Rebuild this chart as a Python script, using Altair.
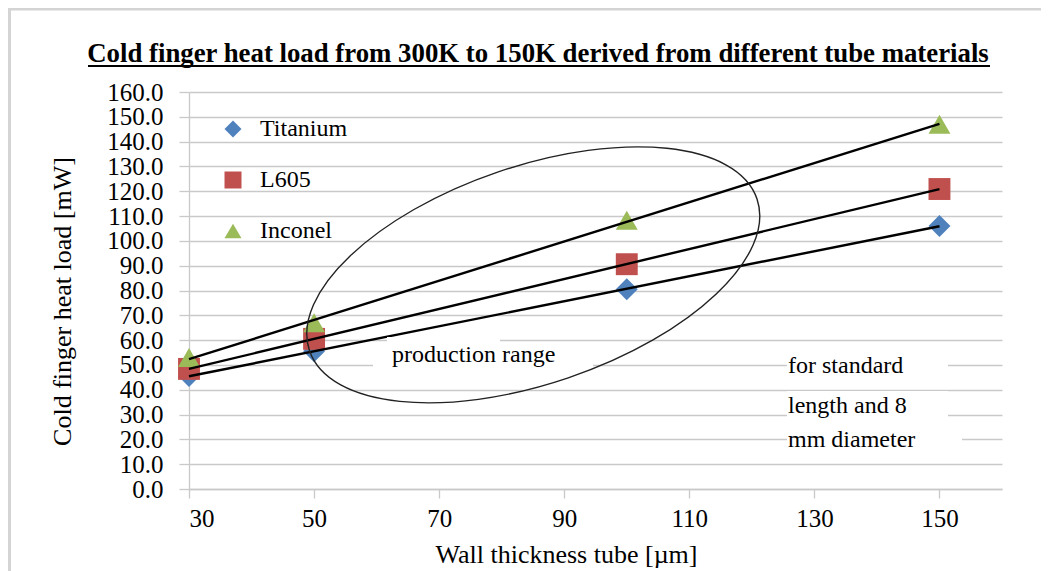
import altair as alt
import pandas as pd

# ---------------- data ----------------
thickness = [30, 50, 100, 150]
titanium = [45.5, 55.5, 80.5, 106.0]
l605 = [48.4, 60.5, 90.6, 120.9]
inconel = [53.0, 67.0, 108.3, 147.0]
materials = ["Titanium", "L605", "Inconel"]
colors = ["#4F81BD", "#C0504D", "#9BBB59"]
shapes = ["diamond", "square", "triangle-up"]
x_ticks = [30, 50, 70, 90, 110, 130, 150]
y_ticks = [0, 10, 20, 30, 40, 50, 60, 70, 80, 90, 100, 110, 120, 130, 140, 150, 160]
title_text = "Cold finger heat load from 300K to 150K derived from different tube materials"
x_title = "Wall thickness tube [µm]"
y_title = "Cold finger heat load [mW]"
note_range = "production range"
note_std = ["for standard", "length and 8", "mm diameter"]
ellipse_center = [85.05, 86.3]   # data coords of the "production range" ellipse

series = {"Titanium": titanium, "L605": l605, "Inconel": inconel}
rows = []
for m in materials:
    for t, v in zip(thickness, series[m]):
        rows.append({"Wall": t, "Load": v, "Material": m})
df = pd.DataFrame(rows)

W, H = 813, 397
FONT = "Liberation Serif"

xscale = alt.Scale(domain=[30, 160], nice=False, zero=False)
yscale = alt.Scale(domain=[0, 160], nice=False, zero=True)
xaxis = alt.Axis(values=x_ticks, title=x_title, grid=False, tickSize=9, labelPadding=8,
                 labelOverlap=False,
                 titleX=377, titleY=73, titleBaseline="alphabetic", titleAlign="center")
yaxis = alt.Axis(values=y_ticks, format=".1f", title=y_title, grid=True, tickSize=10,
                 labelPadding=16, labelOverlap=False, titleX=-119, titleY=209, titleAngle=270,
                 titleBaseline="alphabetic", titleAlign="center")
X = alt.X("Wall:Q", scale=xscale, axis=xaxis)
Y = alt.Y("Load:Q", scale=yscale, axis=yaxis)

legend = alt.Legend(title=None, orient="none", legendX=32, legendY=25, labelFont=FONT,
                    labelFontSize=24, labelColor="black", symbolSize=289, labelOffset=15,
                    rowPadding=27, padding=0, symbolStrokeWidth=0, symbolOpacity=1)

points = alt.Chart(df).mark_point(filled=True, opacity=1, size=480, strokeWidth=0).encode(
    x=X, y=Y,
    color=alt.Color("Material:N", scale=alt.Scale(domain=materials, range=colors), legend=legend),
    shape=alt.Shape("Material:N", scale=alt.Scale(domain=materials, range=shapes), legend=legend),
)

trend = alt.Chart(df).transform_regression(
    "Wall", "Load", groupby=["Material"]
).mark_line(color="black", strokeWidth=2.4).encode(x=X, y=Y, detail="Material:N")

one = pd.DataFrame({"k": [0]})


def box(x1, x2, y1, y2):
    return alt.Chart(one).mark_rect(color="white", opacity=1).encode(
        x=alt.value(x1), x2=alt.value(x2), y=alt.value(y1), y2=alt.value(y2))


def label(txt, x, y, size=24, weight="normal", align="left"):
    return alt.Chart(one).mark_text(text=txt, font=FONT, fontSize=size, fontWeight=weight,
                                    align=align, baseline="alphabetic", color="black").encode(
        x=alt.value(x), y=alt.value(y))


boxes = [
    box(184, 404, 253, 278),
    box(198, 311, 245, 253),
    box(598, 759, 258, 295),
    box(598, 759, 299, 335),
    box(598, 773, 336, 360),
]

ELLIPSE_PATH = ("M1,0C1,0.2543,0.5523,0.4604,0,0.4604C-0.5523,0.4604,-1,0.2543,-1,0"
                "C-1,-0.2543,-0.5523,-0.4604,0,-0.4604C0.5523,-0.4604,1,-0.2543,1,0Z")
ell_df = pd.DataFrame({"Wall": [ellipse_center[0]], "Load": [ellipse_center[1]]})
ellipse = alt.Chart(ell_df).mark_point(shape=ELLIPSE_PATH, size=223351, angle=341.25,
                                       filled=False, color="#222222", strokeWidth=1.4,
                                       opacity=1).encode(x=X, y=Y)

texts = [
    label(note_range, 203, 270),
    label(note_std[0], 599, 281),
    label(note_std[1], 599, 321),
    label(note_std[2], 599, 355),
    label(title_text, 349, -30, size=26.8, weight="bold", align="center"),
]

underline = alt.Chart(one).mark_rule(color="black", strokeWidth=2.2).encode(
    x=alt.value(-101), x2=alt.value(801), y=alt.value(-26))
border_left = alt.Chart(one).mark_rule(color="#D4D4D4", strokeWidth=3).encode(
    x=alt.value(-179.5), y=alt.value(-84), y2=alt.value(480))
border_top = alt.Chart(one).mark_rule(color="#D4D4D4", strokeWidth=3).encode(
    x=alt.value(-181), x2=alt.value(852), y=alt.value(-83))

chart = alt.layer(
    points, trend, *boxes, ellipse, *texts, underline, border_left, border_top
).properties(
    width=W, height=H,
    autosize=alt.AutoSizeParams(type="none"),
    padding={"left": 181, "top": 84, "right": 41, "bottom": 82},
).configure_view(stroke=None).configure_axis(
    domainColor="#C9C9C9", tickColor="#C9C9C9", gridColor="#C9C9C9",
    domainWidth=1.3, tickWidth=1.3, gridWidth=1.3,
    labelFont=FONT, labelFontSize=25, labelColor="black",
    titleFont=FONT, titleFontSize=26, titleFontWeight="normal", titleColor="black",
)

chart.save("out.html", embed_options={"renderer": "svg", "actions": False})
